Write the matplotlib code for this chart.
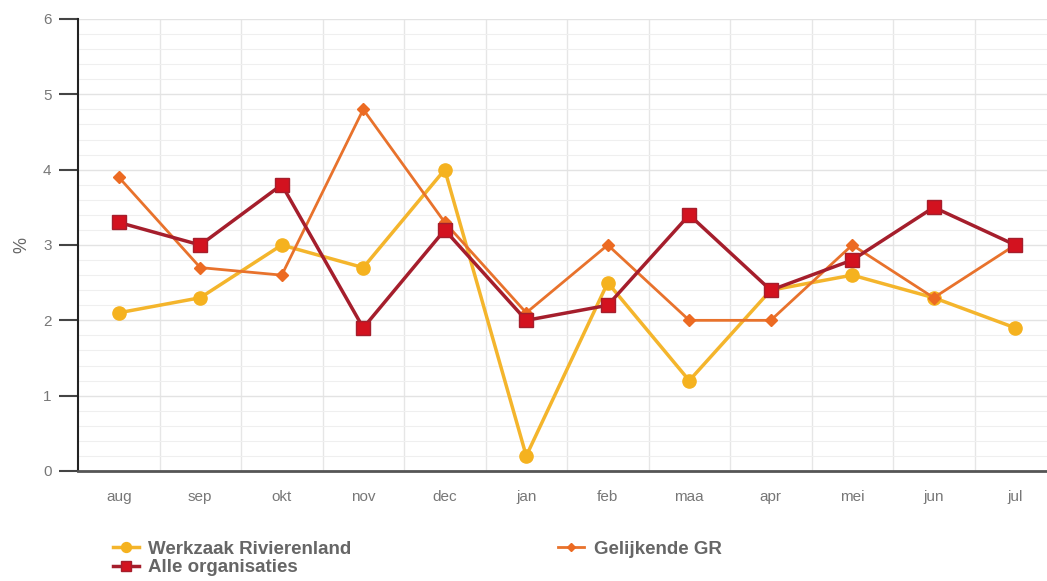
import matplotlib.pyplot as plt
from matplotlib.ticker import MultipleLocator

# data
maanden = ['aug', 'sep', 'okt', 'nov', 'dec', 'jan', 'feb', 'maa', 'apr', 'mei', 'jun', 'jul']
werkzaak = [2.1, 2.3, 3.0, 2.7, 4.0, 0.2, 2.5, 1.2, 2.4, 2.6, 2.3, 1.9]
gelijkende = [3.9, 2.7, 2.6, 4.8, 3.3, 2.1, 3.0, 2.0, 2.0, 3.0, 2.3, 3.0]
alle = [3.3, 3.0, 3.8, 1.9, 3.2, 2.0, 2.2, 3.4, 2.4, 2.8, 3.5, 3.0]

plt.rcParams['font.family'] = ['Liberation Sans', 'DejaVu Sans']

fig = plt.figure(figsize=(10.47, 5.81), dpi=100)
ax = fig.add_axes([78 / 1047, 1 - 471 / 581, 978 / 1047, 452 / 581])

x = range(len(maanden))
ax.plot(x, werkzaak, color='#f4b52c', lw=2.5, marker='o', ms=9.5,
        mfc='#f5b21f', mec='#f5b21f', label='Werkzaak Rivierenland', zorder=3)
ax.plot(x, alle, color='#a51e2c', lw=2.5, marker='s', ms=10,
        mfc='#d3121f', mec='#a51e2c', label='Alle organisaties', zorder=4)
ax.plot(x, gelijkende, color='#e8722c', lw=2, marker='D', ms=6,
        mfc='#ec6a22', mec='#ec6a22', label='Gelijkende GR', zorder=3)

ax.set_xlim(-0.5, len(maanden) - 0.5)
ax.set_ylim(0, 6)
ax.set_xticks(list(x))
ax.set_xticklabels(maanden)
ax.set_xticks([i + 0.5 for i in range(len(maanden) - 1)], minor=True)
ax.yaxis.set_major_locator(MultipleLocator(1))
ax.yaxis.set_minor_locator(MultipleLocator(0.2))

ax.grid(which='major', axis='y', color='#e3e3e3', lw=1)
ax.grid(which='minor', axis='y', color='#efefef', lw=0.8)
ax.grid(which='minor', axis='x', color='#e6e6e6', lw=1)
ax.set_axisbelow(True)

ax.tick_params(axis='x', which='both', length=0, pad=14, labelsize=11, labelcolor='#777777')
ax.tick_params(axis='y', which='major', length=14, width=1.5, color='#444444',
               pad=5, labelsize=11, labelcolor='#777777')
ax.tick_params(axis='y', which='minor', length=0)

for s in ['top', 'right']:
    ax.spines[s].set_visible(False)
ax.spines['left'].set_color('#222222')
ax.spines['left'].set_linewidth(1.5)
ax.spines['bottom'].set_color('#555555')
ax.spines['bottom'].set_linewidth(2)

ax.set_ylabel('%', fontsize=13, color='#666666', labelpad=9)

fig.legend(loc='upper left', bbox_to_anchor=(96 / 1047, 1 - 524 / 581), ncol=2,
           frameon=False, prop={'weight': 'bold', 'size': 13.5},
           labelcolor='#666666', columnspacing=11.0, handlelength=1.4,
           handletextpad=0.5, labelspacing=0.05, markerscale=0.75)

fig.savefig('out.png', dpi=100)
